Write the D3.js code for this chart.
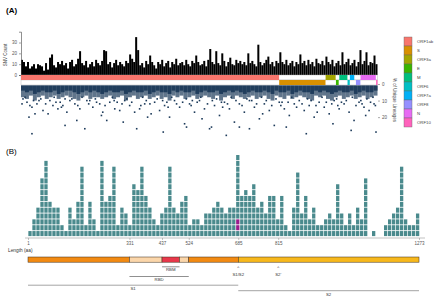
<!DOCTYPE html>
<html>
<head>
<meta charset="utf-8">
<script src="https://cdn.jsdelivr.net/npm/d3@7"></script>
<style>
  body { margin: 0; background: #fff; }
  svg { display: block; font-family: "Liberation Sans", Arial, sans-serif; }
</style>
</head>
<body>
<svg id="chart" width="440" height="297"></svg>
<script>
// ---- panel A data ----
const genomeStart = 266, genomeEnd = 29674;

// SNV count per genome bin (~165 nt each)
const snvCounts = [
  14,12,8,12,6,8,10,6,10,9, 8,4,11,5,16,19,9,7,12,10,
  13,9,11,6,12,14,8,10,15,22, 11,9,13,7,10,12,8,14,11,9,
  13,23,22,10,12,7,11,14,9,12, 10,8,13,11,19,15,12,35,23,9,
  11,7,13,10,18,12,9,6,12,10, 14,8,11,13,7,12,10,15,9,11,
  12,9,14,10,8,13,11,18,12,9, 10,13,8,14,24,12,10,22,11,9,
  20,13,8,12,16,10,9,14,11,13, 10,12,9,20,11,13,10,8,28,12,
  9,11,14,17,10,12,8,13,11,21, 12,10,14,9,11,13,8,12,10,19,
  11,13,9,14,10,12,8,15,11,10, 13,9,17,12,10,14,8,11,13,9,
  21,10,12,15,9,11,14,8,12,23, 10,13,21,9,12,11,18,10
];

const geneNames = ["ORF1ab", "S", "ORF3a", "E", "M", "ORF6", "ORF7a", "ORF8", "N", "ORF10"];
const geneStart = [266, 21563, 25393, 26245, 26523, 27202, 27394, 27894, 28274, 29558];
const geneEnd   = [21555, 25384, 26220, 26472, 27191, 27387, 27759, 28259, 29533, 29674];
const geneRow   = [0, 1, 0, 1, 0, 1, 0, 1, 0, 1];
const geneColors = ["#F8766D", "#D89000", "#A3A500", "#39B600", "#00BF7D",
                    "#00BFC4", "#00B0F6", "#9590FF", "#E76BF3", "#FF62BC"];

// % of unique lineages: the crowded band of points just under the track
// (solid core depth, then a looser zone) per genome bin
const bandCore = [
  4,5,4,6,5,4,5,5,4,6, 5,4,4,5,6,5,4,5,4,5, 6,5,4,5,5,4,6,5,4,5,
  5,4,6,5,4,5,5,6,4,5, 4,5,5,4,6,5,4,5,5,4, 6,5,4,5,4,5,6,5,4,5,
  5,4,5,6,4,5,5,4,6,5, 4,5,5,6,4,5,4,5,6,5, 4,5,5,4,6,5,4,5,5,4
];
const bandLoose = [
  8,9,7,10,8,7,9,8,7,9, 8,7,8,9,10,8,7,9,8,8, 9,8,7,9,8,7,10,8,7,9,
  8,7,9,8,7,9,8,10,7,8, 7,9,8,7,9,8,7,8,9,7, 10,8,7,9,7,8,9,8,7,9,
  8,7,9,10,7,8,9,7,9,8, 7,8,9,10,7,8,7,9,10,8, 7,9,8,7,9,8,7,9,8,7
];

// scattered lineage points [genome position, %]
const lineageDots = [
  [430,9],[760,11],[1170,14],[1580,12],[2080,16],[925,20],[1420,18],[1170,30],[2650,10],[2900,13],
  [3310,15],[3720,13],[4050,17],[4460,9],[4710,12],[5120,15],[4870,22],[5530,27],[5940,10],[6190,14],
  [6760,12],[7010,17],[7340,22],[7590,11],[8000,15],[8410,16],[8820,10],[9230,13],[9640,17],[9810,27],
  [10050,15],[10470,12],[10710,20],[11290,11],[11700,16],[12110,13],[12520,20],[12930,10],[13350,14],
  [13760,24],[14170,12],[14580,17],[14990,10],[15400,15],[15820,27],[16230,13],[16640,19],[17050,11],
  [17460,15],[17870,23],[18280,12],[18690,17],[19110,10],[19520,14],[19930,21],[20340,12],[20750,16],
  [21160,25],[21570,11],[21990,15],[22400,19],[13920,26],[15980,26],[18280,26],[19110,27],[22150,26],
  [22810,12],[23220,10],[23630,16],[24040,13],[24450,20],[24860,11],[25280,14],[25690,18],[26100,10],
  [26510,15],[26920,12],[27330,17],[27740,22],[28150,11],[28560,14],[28980,16],[29390,12],[27500,28],
  [29550,29],[600,8],[1900,9],[3000,8],[3900,9],[5300,8],[6400,9],[7800,8],[9000,9],[10300,8],
  [11500,9],[12700,8],[13900,9],[15100,8],[16400,9],[17600,8],[18900,9],[20100,8],[21300,9],[22600,8],
  [23900,9],[25100,8],[26300,9],[27600,8],[28800,9],[29300,8],[1300,10],[3500,11],[5700,10],[8200,11],
  [10600,10],[12300,11],[14400,10],[16800,11],[19300,10],[21800,11],[24200,10],[26700,11],[28300,10],
  [350,12],[1000,13],[1750,10],[2300,12],[3150,11],[3600,14],[4300,10],[4950,13],[5850,12],[6500,11],
  [7200,13],[7950,10],[8600,12],[9400,11],[10150,13],[10900,12],[11950,10],[12400,14],[13100,12],[13600,11],
  [14300,13],[14800,11],[15650,12],[16050,10],[16900,14],[17300,12],[18000,10],[18500,13],[19700,12],[20500,10],
  [20950,13],[21700,13],[22300,11],[23000,14],[23450,12],[24600,13],[25450,11],[25900,12],[26400,13],[27100,10],
  [27900,13],[28400,12],[29100,11],[29500,13],[2500,18],[6900,19],[11000,18],[15200,21],[20200,18],[24700,17],
  [28700,19],[8700,23],[26000,24],[3900,25],[12000,29],[17200,31],[23800,30]
];

const countTicks = [0, 10, 20, 30];
const pctTicks = [0, 10, 20];

// ---- panel B data ----
const spikeLength = 1273;
const spikeBinSize = 13;
// mutation count per 13-aa bin of the spike protein
const spikeCounts = [
  1,3,5,10,13,6,5,5,2,1, 5,3,6,12,2,6,3,1,13,6,
  7,12,2,5,4,2,9,8,12,7, 5,3,2,4,5,12,5,4,6,7,
  2,3,3,2,4,4,5,6,5,4, 5,5,14,7,8,7,9,5,6,4,
  7,7,3,7,2,1,5,11,4,7, 3,5,2,2,3,4,3,9,4,2,
  4,2,5,3,10,0,1,0,0,2, 3,4,5,12,3,2,2,4
];
const highlightBin = 52, highlightRows = [1, 2];
const spikeTicks = [1, 331, 437, 524, 685, 815, 1273];

const domainStart = [1, 331, 437, 494, 524, 685];
const domainEnd   = [331, 437, 494, 524, 685, 1273];
const domainColors = ["#F28A12", "#FBD6AA", "#E8384B", "#FBD6AA", "#F28A12", "#F7B81C"];

const svg = d3.select("#chart");
const navy = "#1c3a5a";

// ================= Panel A =================
svg.append("text").attr("x", 6).attr("y", 13).attr("font-size", 8).attr("font-weight", "bold").text("(A)");

const xG = d3.scaleLinear().domain([genomeStart, genomeEnd]).range([21, 377.5]);
const yC = d3.scaleLinear().domain([0, 40]).range([75, 31.7]);
const yP = d3.scaleLinear().domain([0, 35]).range([84, 142]);

const binW = (genomeEnd - genomeStart) / snvCounts.length;
svg.append("g").selectAll("rect").data(snvCounts).join("rect")
  .attr("x", (d, i) => xG(genomeStart + i * binW))
  .attr("width", xG(genomeStart + binW) - xG(genomeStart))
  .attr("y", d => yC(d))
  .attr("height", d => yC(0) - yC(d))
  .attr("fill", "#000");

const leftAxis = svg.append("g").attr("transform", "translate(21,0)")
  .call(d3.axisLeft(yC).tickValues(countTicks).tickSize(2).tickPadding(2));
leftAxis.select(".domain").attr("stroke", "#444").attr("stroke-width", 0.6);
leftAxis.selectAll("line").attr("stroke", "#444").attr("stroke-width", 0.5);
leftAxis.selectAll("text").attr("font-size", 4.5).attr("fill", "#555").attr("font-family", "Liberation Sans, Arial");

svg.append("text").attr("transform", "translate(7,55) rotate(-90)")
  .attr("text-anchor", "middle").attr("font-size", 4.5).attr("fill", "#444").text("SNV Count");

// gene track rows
[0, 1].forEach(r => {
  svg.append("rect").attr("x", xG(genomeStart)).attr("y", 75 + r * 5)
    .attr("width", xG(genomeEnd) - xG(genomeStart)).attr("height", 5)
    .attr("fill", "#fff").attr("stroke", "#aaa").attr("stroke-width", 0.4);
});
svg.append("g").selectAll("rect").data(geneNames).join("rect")
  .attr("x", (d, i) => xG(geneStart[i]))
  .attr("width", (d, i) => Math.max(0.8, xG(geneEnd[i]) - xG(geneStart[i])))
  .attr("y", (d, i) => 75 + geneRow[i] * 5)
  .attr("height", 5)
  .attr("fill", (d, i) => geneColors[i]);

// crowded band of lineage points
const bandW = (genomeEnd - genomeStart) / bandCore.length;
const bandX = i => xG(genomeStart + i * bandW);
const bandCellW = xG(genomeStart + bandW) - xG(genomeStart);
svg.append("g").selectAll("rect").data(bandLoose).join("rect")
  .attr("x", (d, i) => bandX(i))
  .attr("width", bandCellW)
  .attr("y", yP(0) + 1.5)
  .attr("height", d => yP(d) - yP(0) - 1.5)
  .attr("fill", navy).attr("opacity", 0.7);
svg.append("g").selectAll("rect").data(bandCore).join("rect")
  .attr("x", (d, i) => bandX(i))
  .attr("width", bandCellW)
  .attr("y", yP(0) + 1.5)
  .attr("height", d => yP(d) - yP(0) - 1.5)
  .attr("fill", navy).attr("opacity", 0.95);

svg.append("g").selectAll("rect").data(lineageDots).join("rect")
  .attr("x", d => xG(d[0]) - 0.8)
  .attr("y", d => yP(d[1]) - 0.8)
  .attr("width", 1.6).attr("height", 1.6)
  .attr("fill", navy);

const rightAxis = svg.append("g").attr("transform", "translate(378,0)")
  .call(d3.axisRight(yP).tickValues(pctTicks).tickSize(2).tickPadding(2));
rightAxis.select(".domain").remove();
rightAxis.selectAll("line").attr("stroke", "#555").attr("stroke-width", 0.5);
rightAxis.selectAll("text").attr("font-size", 4.5).attr("fill", "#555").attr("font-family", "Liberation Sans, Arial");

svg.append("text").attr("transform", "translate(393,100) rotate(90)")
  .attr("text-anchor", "middle").attr("font-size", 4.5).attr("fill", "#444").text("% of Unique Lineages");

// legend
const lg = svg.append("g").attr("transform", "translate(404,37)");
lg.selectAll("rect").data(geneNames).join("rect")
  .attr("x", 0).attr("y", (d, i) => i * 9)
  .attr("width", 8).attr("height", 9)
  .attr("fill", (d, i) => geneColors[i])
  .attr("stroke", "#666").attr("stroke-width", 0.4);
lg.selectAll("text").data(geneNames).join("text")
  .attr("x", 13).attr("y", (d, i) => i * 9 + 6)
  .attr("font-size", 4.3).attr("fill", "#444").text(d => d);

// ================= Panel B =================
svg.append("text").attr("x", 6).attr("y", 154).attr("font-size", 8).text("(B)");

const xS = d3.scaleLinear().domain([1, spikeLength]).range([28, 419]);
const rowH = 5.85;
const base = 236.5;
const cellW = xS(1 + spikeBinSize) - xS(1);

const cells = [];
spikeCounts.forEach((c, i) => {
  for (let r = 0; r < c; r++) cells.push({bin: i, row: r});
});
svg.append("g").selectAll("rect").data(cells).join("rect")
  .attr("x", d => xS(1 + d.bin * spikeBinSize) + 0.35)
  .attr("y", d => base - (d.row + 1) * rowH + 0.4)
  .attr("width", cellW - 0.7)
  .attr("height", rowH - 0.8)
  .attr("fill", d => (d.bin === highlightBin && highlightRows.includes(d.row)) ? "#9a1b8c" : "#4a8a8d");

const bAxis = svg.append("g").attr("transform", "translate(0,238)")
  .call(d3.axisBottom(xS).tickValues(spikeTicks).tickSize(2).tickPadding(1.5).tickFormat(d3.format("d")));
bAxis.select(".domain").attr("d", "M25,0H425").attr("stroke", "#999").attr("stroke-width", 0.6);
bAxis.selectAll("line").attr("stroke", "#888").attr("stroke-width", 0.5);
bAxis.selectAll("text").attr("font-size", 4.5).attr("fill", "#555").attr("font-family", "Liberation Sans, Arial");

svg.append("text").attr("x", 8).attr("y", 252).attr("font-size", 4.8).attr("fill", "#333").text("Length (aa)");

// domain bar
svg.append("g").selectAll("rect").data(domainStart).join("rect")
  .attr("x", (d, i) => xS(d))
  .attr("width", (d, i) => xS(domainEnd[i]) - xS(d))
  .attr("y", 257).attr("height", 5.2)
  .attr("fill", (d, i) => domainColors[i])
  .attr("stroke", "#3a2a1a").attr("stroke-width", 0.5);

// annotations
const note = (x, y, t, anchor) => svg.append("text").attr("x", x).attr("y", y)
  .attr("text-anchor", anchor || "middle").attr("font-size", 4.3).attr("fill", "#333").text(t);
const hline = (x1, x2, y, col) => svg.append("line").attr("x1", x1).attr("x2", x2)
  .attr("y1", y).attr("y2", y).attr("stroke", col || "#444").attr("stroke-width", 0.6);

hline(xS(437), xS(494), 266.8);
note((xS(437) + xS(494)) / 2, 271, "RBM");
hline(xS(331), xS(524), 276.5);
note((xS(331) + xS(524)) / 2, 281.3, "RBD");
[[685, "S1/S2"], [815, "S2'"]].forEach(([p, t]) => {
  note(xS(p), 268.5, "^");
  note(xS(p), 276, t);
});
hline(xS(1), xS(685), 285.2, "#666");
note((xS(1) + xS(685)) / 2, 290, "S1");
hline(xS(685), xS(1273), 290.7, "#666");
note((xS(685) + xS(1273)) / 2, 296, "S2");
</script>
</body>
</html>
